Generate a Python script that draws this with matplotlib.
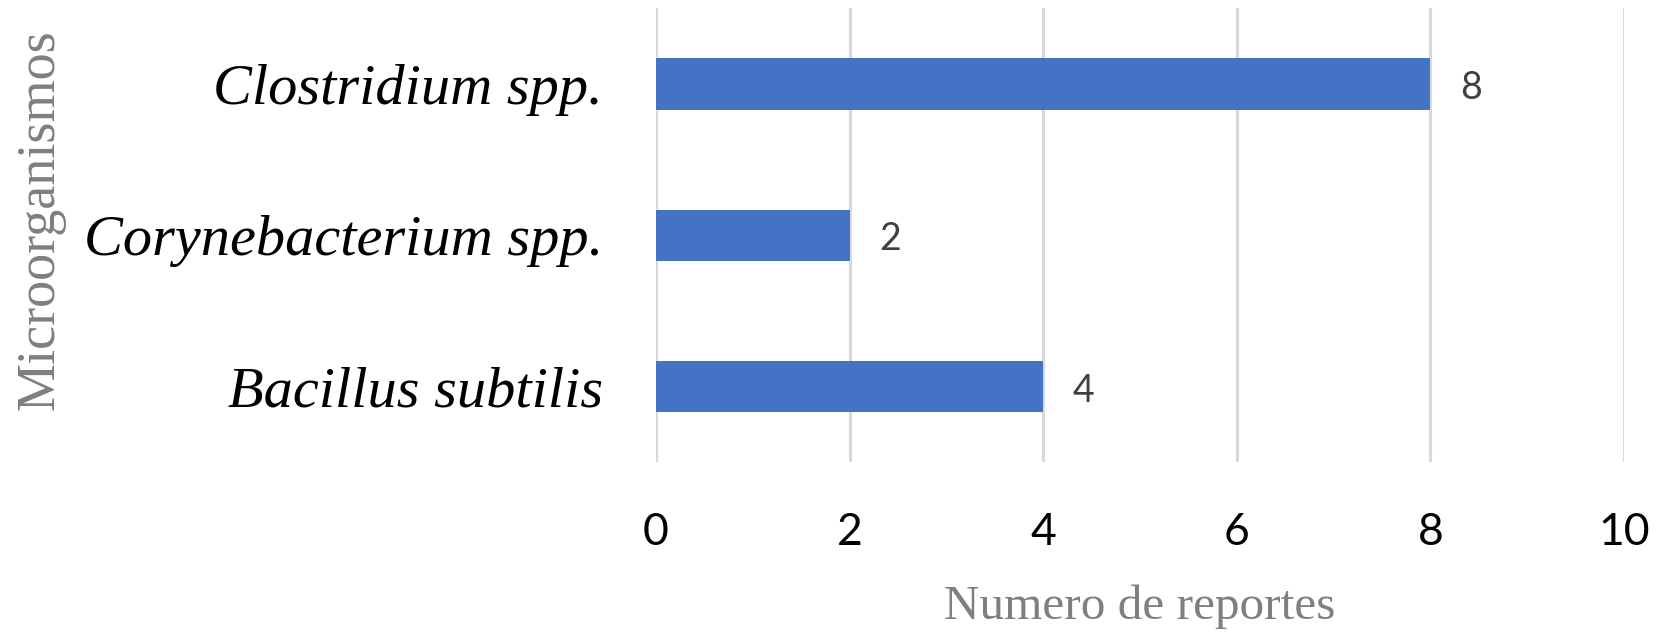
import matplotlib
matplotlib.use("Agg")
import matplotlib.pyplot as plt

categories = ["Bacillus subtilis", "Corynebacterium spp.", "Clostridium spp."]
values = [4, 2, 8]
xticks = [0, 2, 4, 6, 8, 10]

fig = plt.figure(figsize=(16.62, 6.33), dpi=100)
ax = fig.add_axes([0.3947, 0.2701, 0.5825, 0.7165])

ypos = list(range(len(categories)))
bars = ax.barh(ypos, values, height=0.34, color="#4472C4", zorder=3)
ax.set_ylim(-0.5, len(categories) - 0.5)
ax.set_xlim(0, 10)
ax.set_xticks(xticks)
ax.set_xticklabels([str(t) for t in xticks], fontsize=32, color="#000000", family="Lato")
ax.tick_params(axis="x", length=0, pad=36)
ax.set_yticks(ypos)
ax.set_yticklabels(categories, fontsize=42, family="Liberation Serif", style="italic", color="#000000")
ax.tick_params(axis="y", length=0, pad=38)
ax.grid(axis="x", color="#d9d9d9", linewidth=2.2, zorder=0)
ax.set_axisbelow(True)
for s in ax.spines.values():
    s.set_visible(False)

for y, v in zip(ypos, values):
    ax.annotate(str(v), xy=(v, y), xytext=(21, -3), textcoords="offset points",
                ha="left", va="center", fontsize=27, color="#404040", family="Lato")

fig.text((656 + 1624) / 2 / 1662, 1 - 607 / 633, "Numero de reportes", ha="center", va="center",
         fontsize=35.5, color="#7f7f7f", family="Liberation Serif")
fig.text(40 / 1662, 1 - 220 / 633, "Microorganismos", ha="center", va="center", rotation=90,
         fontsize=39, color="#7f7f7f", family="Liberation Serif")

fig.savefig("out.png", dpi=100)
